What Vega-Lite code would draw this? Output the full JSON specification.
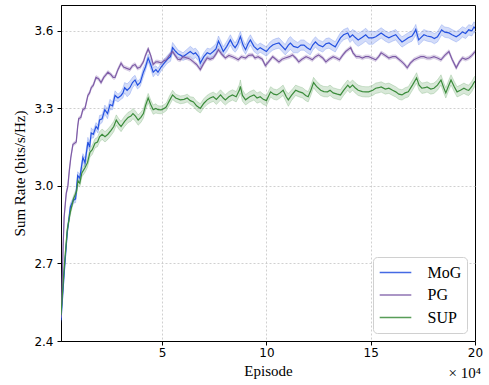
{
"$schema": "https://vega.github.io/schema/vega-lite/v6.json",
"width": 414, "height": 336,
"autosize": {"type": "none"},
"padding": {"left": 61, "top": 5, "right": 14, "bottom": 44},
"background": "white",
"config": {
 "view": {"stroke": "black", "strokeWidth": 1},
 "axis": {"domainColor": "black", "tickColor": "black", "tickSize": 4, "labelFont": "DejaVu Sans", "labelFontSize": 12, "labelColor": "black", "titleFont": "Liberation Serif", "titleFontSize": 15, "titleFontWeight": "normal", "titleColor": "black", "gridColor": "#c4c4c4", "gridDash": [2, 2], "gridWidth": 0.8, "labelFlush": false, "labelBound": false},
 "legend": {"orient": "bottom-right", "offset": 8, "fillColor": "white", "strokeColor": "#d0d0d0", "cornerRadius": 4, "padding": 5.5, "symbolType": "stroke", "symbolSize": 1000, "symbolStrokeWidth": 1.5, "symbolOpacity": 0.85, "labelFont": "Liberation Serif", "labelFontSize": 16, "labelColor": "black", "labelOffset": 15, "rowPadding": 2.5, "clipHeight": 20}
},
"data": {"values": [
{"s":"MoG","x":0.15,"y":2.48,"lo":2.472,"hi":2.488},
{"s":"MoG","x":0.3,"y":2.66,"lo":2.65,"hi":2.67},
{"s":"MoG","x":0.45,"y":2.82,"lo":2.81,"hi":2.83},
{"s":"MoG","x":0.6,"y":2.92,"lo":2.908,"hi":2.932},
{"s":"MoG","x":0.75,"y":2.945,"lo":2.933,"hi":2.957},
{"s":"MoG","x":0.85,"y":2.95,"lo":2.935,"hi":2.965},
{"s":"MoG","x":0.95,"y":3.04,"lo":3.025,"hi":3.055},
{"s":"MoG","x":1.05,"y":3.03,"lo":3.015,"hi":3.045},
{"s":"MoG","x":1.2,"y":3.11,"lo":3.095,"hi":3.125},
{"s":"MoG","x":1.3,"y":3.09,"lo":3.072,"hi":3.108},
{"s":"MoG","x":1.44,"y":3.17,"lo":3.152,"hi":3.188},
{"s":"MoG","x":1.52,"y":3.15,"lo":3.135,"hi":3.165},
{"s":"MoG","x":1.6,"y":3.205,"lo":3.185,"hi":3.225},
{"s":"MoG","x":1.7,"y":3.2,"lo":3.185,"hi":3.215},
{"s":"MoG","x":1.83,"y":3.23,"lo":3.215,"hi":3.245},
{"s":"MoG","x":1.92,"y":3.22,"lo":3.205,"hi":3.235},
{"s":"MoG","x":2.0,"y":3.255,"lo":3.237,"hi":3.273},
{"s":"MoG","x":2.12,"y":3.26,"lo":3.245,"hi":3.275},
{"s":"MoG","x":2.25,"y":3.295,"lo":3.277,"hi":3.313},
{"s":"MoG","x":2.38,"y":3.28,"lo":3.26,"hi":3.30},
{"s":"MoG","x":2.5,"y":3.315,"lo":3.295,"hi":3.335},
{"s":"MoG","x":2.62,"y":3.31,"lo":3.295,"hi":3.325},
{"s":"MoG","x":2.74,"y":3.35,"lo":3.332,"hi":3.368},
{"s":"MoG","x":2.88,"y":3.34,"lo":3.325,"hi":3.355},
{"s":"MoG","x":3.03,"y":3.35,"lo":3.335,"hi":3.365},
{"s":"MoG","x":3.12,"y":3.36,"lo":3.34,"hi":3.38},
{"s":"MoG","x":3.2,"y":3.38,"lo":3.36,"hi":3.40},
{"s":"MoG","x":3.32,"y":3.37,"lo":3.345,"hi":3.395},
{"s":"MoG","x":3.45,"y":3.38,"lo":3.355,"hi":3.405},
{"s":"MoG","x":3.58,"y":3.4,"lo":3.38,"hi":3.42},
{"s":"MoG","x":3.7,"y":3.41,"lo":3.392,"hi":3.428},
{"s":"MoG","x":3.82,"y":3.39,"lo":3.375,"hi":3.405},
{"s":"MoG","x":3.95,"y":3.40,"lo":3.385,"hi":3.415},
{"s":"MoG","x":4.1,"y":3.44,"lo":3.422,"hi":3.458},
{"s":"MoG","x":4.2,"y":3.46,"lo":3.445,"hi":3.475},
{"s":"MoG","x":4.33,"y":3.495,"lo":3.48,"hi":3.51},
{"s":"MoG","x":4.45,"y":3.47,"lo":3.452,"hi":3.488},
{"s":"MoG","x":4.57,"y":3.44,"lo":3.422,"hi":3.458},
{"s":"MoG","x":4.7,"y":3.45,"lo":3.435,"hi":3.465},
{"s":"MoG","x":4.8,"y":3.44,"lo":3.425,"hi":3.455},
{"s":"MoG","x":4.95,"y":3.46,"lo":3.445,"hi":3.475},
{"s":"MoG","x":5.1,"y":3.475,"lo":3.46,"hi":3.49},
{"s":"MoG","x":5.25,"y":3.49,"lo":3.475,"hi":3.505},
{"s":"MoG","x":5.4,"y":3.5,"lo":3.482,"hi":3.518},
{"s":"MoG","x":5.5,"y":3.535,"lo":3.515,"hi":3.555},
{"s":"MoG","x":5.65,"y":3.52,"lo":3.502,"hi":3.538},
{"s":"MoG","x":5.77,"y":3.51,"lo":3.495,"hi":3.525},
{"s":"MoG","x":5.9,"y":3.505,"lo":3.49,"hi":3.52},
{"s":"MoG","x":6.0,"y":3.50,"lo":3.485,"hi":3.515},
{"s":"MoG","x":6.18,"y":3.51,"lo":3.492,"hi":3.528},
{"s":"MoG","x":6.35,"y":3.52,"lo":3.50,"hi":3.54},
{"s":"MoG","x":6.5,"y":3.51,"lo":3.49,"hi":3.53},
{"s":"MoG","x":6.6,"y":3.515,"lo":3.497,"hi":3.533},
{"s":"MoG","x":6.75,"y":3.5,"lo":3.482,"hi":3.518},
{"s":"MoG","x":6.83,"y":3.475,"lo":3.46,"hi":3.49},
{"s":"MoG","x":7.0,"y":3.5,"lo":3.485,"hi":3.515},
{"s":"MoG","x":7.16,"y":3.515,"lo":3.497,"hi":3.533},
{"s":"MoG","x":7.3,"y":3.51,"lo":3.49,"hi":3.53},
{"s":"MoG","x":7.45,"y":3.52,"lo":3.50,"hi":3.54},
{"s":"MoG","x":7.58,"y":3.53,"lo":3.51,"hi":3.55},
{"s":"MoG","x":7.7,"y":3.56,"lo":3.54,"hi":3.58},
{"s":"MoG","x":7.82,"y":3.54,"lo":3.52,"hi":3.56},
{"s":"MoG","x":7.93,"y":3.52,"lo":3.502,"hi":3.538},
{"s":"MoG","x":8.1,"y":3.54,"lo":3.52,"hi":3.56},
{"s":"MoG","x":8.27,"y":3.565,"lo":3.545,"hi":3.585},
{"s":"MoG","x":8.4,"y":3.545,"lo":3.525,"hi":3.565},
{"s":"MoG","x":8.5,"y":3.535,"lo":3.517,"hi":3.553},
{"s":"MoG","x":8.62,"y":3.55,"lo":3.53,"hi":3.57},
{"s":"MoG","x":8.75,"y":3.578,"lo":3.558,"hi":3.598},
{"s":"MoG","x":8.88,"y":3.545,"lo":3.525,"hi":3.565},
{"s":"MoG","x":9.0,"y":3.527,"lo":3.509,"hi":3.545},
{"s":"MoG","x":9.12,"y":3.55,"lo":3.53,"hi":3.57},
{"s":"MoG","x":9.23,"y":3.565,"lo":3.545,"hi":3.585},
{"s":"MoG","x":9.4,"y":3.54,"lo":3.52,"hi":3.56},
{"s":"MoG","x":9.57,"y":3.527,"lo":3.509,"hi":3.545},
{"s":"MoG","x":9.7,"y":3.535,"lo":3.517,"hi":3.553},
{"s":"MoG","x":9.86,"y":3.527,"lo":3.509,"hi":3.545},
{"s":"MoG","x":10.0,"y":3.52,"lo":3.502,"hi":3.538},
{"s":"MoG","x":10.15,"y":3.535,"lo":3.515,"hi":3.555},
{"s":"MoG","x":10.3,"y":3.545,"lo":3.525,"hi":3.565},
{"s":"MoG","x":10.45,"y":3.55,"lo":3.53,"hi":3.57},
{"s":"MoG","x":10.6,"y":3.553,"lo":3.533,"hi":3.573},
{"s":"MoG","x":10.75,"y":3.54,"lo":3.52,"hi":3.56},
{"s":"MoG","x":10.9,"y":3.527,"lo":3.507,"hi":3.547},
{"s":"MoG","x":11.05,"y":3.545,"lo":3.52,"hi":3.57},
{"s":"MoG","x":11.15,"y":3.553,"lo":3.528,"hi":3.578},
{"s":"MoG","x":11.3,"y":3.54,"lo":3.515,"hi":3.565},
{"s":"MoG","x":11.5,"y":3.535,"lo":3.515,"hi":3.555},
{"s":"MoG","x":11.65,"y":3.545,"lo":3.525,"hi":3.565},
{"s":"MoG","x":11.8,"y":3.545,"lo":3.525,"hi":3.565},
{"s":"MoG","x":11.95,"y":3.535,"lo":3.515,"hi":3.555},
{"s":"MoG","x":12.1,"y":3.527,"lo":3.507,"hi":3.547},
{"s":"MoG","x":12.22,"y":3.545,"lo":3.525,"hi":3.565},
{"s":"MoG","x":12.35,"y":3.557,"lo":3.537,"hi":3.577},
{"s":"MoG","x":12.5,"y":3.545,"lo":3.525,"hi":3.565},
{"s":"MoG","x":12.7,"y":3.538,"lo":3.518,"hi":3.558},
{"s":"MoG","x":12.85,"y":3.55,"lo":3.53,"hi":3.57},
{"s":"MoG","x":13.0,"y":3.553,"lo":3.533,"hi":3.573},
{"s":"MoG","x":13.15,"y":3.545,"lo":3.525,"hi":3.565},
{"s":"MoG","x":13.3,"y":3.538,"lo":3.518,"hi":3.558},
{"s":"MoG","x":13.42,"y":3.555,"lo":3.535,"hi":3.575},
{"s":"MoG","x":13.55,"y":3.573,"lo":3.553,"hi":3.593},
{"s":"MoG","x":13.7,"y":3.585,"lo":3.565,"hi":3.605},
{"s":"MoG","x":13.9,"y":3.592,"lo":3.572,"hi":3.612},
{"s":"MoG","x":14.0,"y":3.575,"lo":3.555,"hi":3.595},
{"s":"MoG","x":14.13,"y":3.585,"lo":3.565,"hi":3.605},
{"s":"MoG","x":14.25,"y":3.575,"lo":3.55,"hi":3.60},
{"s":"MoG","x":14.4,"y":3.565,"lo":3.54,"hi":3.59},
{"s":"MoG","x":14.6,"y":3.575,"lo":3.55,"hi":3.60},
{"s":"MoG","x":14.76,"y":3.585,"lo":3.56,"hi":3.61},
{"s":"MoG","x":14.9,"y":3.573,"lo":3.548,"hi":3.598},
{"s":"MoG","x":15.1,"y":3.573,"lo":3.548,"hi":3.598},
{"s":"MoG","x":15.24,"y":3.577,"lo":3.557,"hi":3.597},
{"s":"MoG","x":15.38,"y":3.585,"lo":3.565,"hi":3.605},
{"s":"MoG","x":15.5,"y":3.592,"lo":3.572,"hi":3.612},
{"s":"MoG","x":15.7,"y":3.58,"lo":3.56,"hi":3.60},
{"s":"MoG","x":15.87,"y":3.573,"lo":3.553,"hi":3.593},
{"s":"MoG","x":16.05,"y":3.58,"lo":3.56,"hi":3.60},
{"s":"MoG","x":16.2,"y":3.585,"lo":3.565,"hi":3.605},
{"s":"MoG","x":16.35,"y":3.57,"lo":3.55,"hi":3.59},
{"s":"MoG","x":16.5,"y":3.557,"lo":3.537,"hi":3.577},
{"s":"MoG","x":16.65,"y":3.565,"lo":3.545,"hi":3.585},
{"s":"MoG","x":16.8,"y":3.573,"lo":3.553,"hi":3.593},
{"s":"MoG","x":16.98,"y":3.58,"lo":3.56,"hi":3.60},
{"s":"MoG","x":17.1,"y":3.595,"lo":3.575,"hi":3.615},
{"s":"MoG","x":17.16,"y":3.605,"lo":3.585,"hi":3.625},
{"s":"MoG","x":17.3,"y":3.565,"lo":3.545,"hi":3.585},
{"s":"MoG","x":17.42,"y":3.575,"lo":3.555,"hi":3.595},
{"s":"MoG","x":17.55,"y":3.585,"lo":3.565,"hi":3.605},
{"s":"MoG","x":17.7,"y":3.58,"lo":3.56,"hi":3.60},
{"s":"MoG","x":17.9,"y":3.577,"lo":3.557,"hi":3.597},
{"s":"MoG","x":18.05,"y":3.57,"lo":3.55,"hi":3.59},
{"s":"MoG","x":18.2,"y":3.577,"lo":3.557,"hi":3.597},
{"s":"MoG","x":18.3,"y":3.59,"lo":3.57,"hi":3.61},
{"s":"MoG","x":18.4,"y":3.604,"lo":3.584,"hi":3.624},
{"s":"MoG","x":18.55,"y":3.595,"lo":3.575,"hi":3.615},
{"s":"MoG","x":18.75,"y":3.592,"lo":3.572,"hi":3.612},
{"s":"MoG","x":18.9,"y":3.585,"lo":3.565,"hi":3.605},
{"s":"MoG","x":19.1,"y":3.577,"lo":3.557,"hi":3.597},
{"s":"MoG","x":19.25,"y":3.585,"lo":3.565,"hi":3.605},
{"s":"MoG","x":19.4,"y":3.596,"lo":3.576,"hi":3.616},
{"s":"MoG","x":19.55,"y":3.59,"lo":3.57,"hi":3.61},
{"s":"MoG","x":19.7,"y":3.604,"lo":3.584,"hi":3.624},
{"s":"MoG","x":19.85,"y":3.6,"lo":3.58,"hi":3.62},
{"s":"MoG","x":19.95,"y":3.615,"lo":3.595,"hi":3.635},
{"s":"MoG","x":20.0,"y":3.61,"lo":3.59,"hi":3.63},
{"s":"PG","x":0.15,"y":2.49,"lo":2.483,"hi":2.497},
{"s":"PG","x":0.2,"y":2.6,"lo":2.593,"hi":2.607},
{"s":"PG","x":0.25,"y":2.76,"lo":2.753,"hi":2.767},
{"s":"PG","x":0.3,"y":2.88,"lo":2.873,"hi":2.887},
{"s":"PG","x":0.4,"y":2.97,"lo":2.963,"hi":2.977},
{"s":"PG","x":0.48,"y":3.0,"lo":2.993,"hi":3.007},
{"s":"PG","x":0.55,"y":3.06,"lo":3.053,"hi":3.067},
{"s":"PG","x":0.62,"y":3.11,"lo":3.103,"hi":3.117},
{"s":"PG","x":0.72,"y":3.16,"lo":3.153,"hi":3.167},
{"s":"PG","x":0.8,"y":3.165,"lo":3.158,"hi":3.172},
{"s":"PG","x":0.88,"y":3.17,"lo":3.163,"hi":3.177},
{"s":"PG","x":0.95,"y":3.23,"lo":3.223,"hi":3.237},
{"s":"PG","x":1.0,"y":3.26,"lo":3.253,"hi":3.267},
{"s":"PG","x":1.1,"y":3.265,"lo":3.258,"hi":3.272},
{"s":"PG","x":1.2,"y":3.295,"lo":3.288,"hi":3.302},
{"s":"PG","x":1.3,"y":3.3,"lo":3.293,"hi":3.307},
{"s":"PG","x":1.44,"y":3.35,"lo":3.343,"hi":3.357},
{"s":"PG","x":1.52,"y":3.36,"lo":3.353,"hi":3.367},
{"s":"PG","x":1.6,"y":3.38,"lo":3.373,"hi":3.387},
{"s":"PG","x":1.7,"y":3.39,"lo":3.383,"hi":3.397},
{"s":"PG","x":1.83,"y":3.42,"lo":3.413,"hi":3.427},
{"s":"PG","x":1.95,"y":3.415,"lo":3.408,"hi":3.422},
{"s":"PG","x":2.07,"y":3.40,"lo":3.393,"hi":3.407},
{"s":"PG","x":2.2,"y":3.42,"lo":3.413,"hi":3.427},
{"s":"PG","x":2.3,"y":3.43,"lo":3.423,"hi":3.437},
{"s":"PG","x":2.4,"y":3.44,"lo":3.433,"hi":3.447},
{"s":"PG","x":2.55,"y":3.43,"lo":3.423,"hi":3.437},
{"s":"PG","x":2.65,"y":3.42,"lo":3.413,"hi":3.427},
{"s":"PG","x":2.74,"y":3.42,"lo":3.413,"hi":3.427},
{"s":"PG","x":2.88,"y":3.45,"lo":3.443,"hi":3.457},
{"s":"PG","x":3.03,"y":3.475,"lo":3.468,"hi":3.482},
{"s":"PG","x":3.15,"y":3.46,"lo":3.453,"hi":3.467},
{"s":"PG","x":3.3,"y":3.455,"lo":3.448,"hi":3.462},
{"s":"PG","x":3.45,"y":3.45,"lo":3.443,"hi":3.457},
{"s":"PG","x":3.58,"y":3.465,"lo":3.458,"hi":3.472},
{"s":"PG","x":3.7,"y":3.47,"lo":3.463,"hi":3.477},
{"s":"PG","x":3.82,"y":3.455,"lo":3.448,"hi":3.462},
{"s":"PG","x":3.95,"y":3.46,"lo":3.453,"hi":3.467},
{"s":"PG","x":4.1,"y":3.48,"lo":3.473,"hi":3.487},
{"s":"PG","x":4.2,"y":3.505,"lo":3.498,"hi":3.512},
{"s":"PG","x":4.33,"y":3.53,"lo":3.523,"hi":3.537},
{"s":"PG","x":4.45,"y":3.505,"lo":3.498,"hi":3.512},
{"s":"PG","x":4.57,"y":3.47,"lo":3.463,"hi":3.477},
{"s":"PG","x":4.7,"y":3.48,"lo":3.473,"hi":3.487},
{"s":"PG","x":4.8,"y":3.48,"lo":3.473,"hi":3.487},
{"s":"PG","x":4.95,"y":3.476,"lo":3.469,"hi":3.483},
{"s":"PG","x":5.1,"y":3.485,"lo":3.478,"hi":3.492},
{"s":"PG","x":5.2,"y":3.488,"lo":3.481,"hi":3.495},
{"s":"PG","x":5.35,"y":3.505,"lo":3.498,"hi":3.512},
{"s":"PG","x":5.5,"y":3.52,"lo":3.513,"hi":3.527},
{"s":"PG","x":5.62,"y":3.505,"lo":3.498,"hi":3.512},
{"s":"PG","x":5.75,"y":3.49,"lo":3.483,"hi":3.497},
{"s":"PG","x":5.87,"y":3.488,"lo":3.481,"hi":3.495},
{"s":"PG","x":6.0,"y":3.5,"lo":3.493,"hi":3.507},
{"s":"PG","x":6.2,"y":3.495,"lo":3.488,"hi":3.502},
{"s":"PG","x":6.35,"y":3.49,"lo":3.483,"hi":3.497},
{"s":"PG","x":6.5,"y":3.48,"lo":3.473,"hi":3.487},
{"s":"PG","x":6.65,"y":3.47,"lo":3.463,"hi":3.477},
{"s":"PG","x":6.83,"y":3.45,"lo":3.443,"hi":3.457},
{"s":"PG","x":7.0,"y":3.475,"lo":3.468,"hi":3.482},
{"s":"PG","x":7.16,"y":3.495,"lo":3.488,"hi":3.502},
{"s":"PG","x":7.3,"y":3.49,"lo":3.483,"hi":3.497},
{"s":"PG","x":7.45,"y":3.495,"lo":3.488,"hi":3.502},
{"s":"PG","x":7.58,"y":3.51,"lo":3.503,"hi":3.517},
{"s":"PG","x":7.7,"y":3.527,"lo":3.52,"hi":3.534},
{"s":"PG","x":7.85,"y":3.51,"lo":3.503,"hi":3.517},
{"s":"PG","x":8.03,"y":3.495,"lo":3.488,"hi":3.502},
{"s":"PG","x":8.2,"y":3.505,"lo":3.498,"hi":3.512},
{"s":"PG","x":8.37,"y":3.5,"lo":3.493,"hi":3.507},
{"s":"PG","x":8.5,"y":3.495,"lo":3.488,"hi":3.502},
{"s":"PG","x":8.65,"y":3.488,"lo":3.481,"hi":3.495},
{"s":"PG","x":8.8,"y":3.5,"lo":3.493,"hi":3.507},
{"s":"PG","x":9.0,"y":3.495,"lo":3.488,"hi":3.502},
{"s":"PG","x":9.15,"y":3.505,"lo":3.498,"hi":3.512},
{"s":"PG","x":9.33,"y":3.507,"lo":3.5,"hi":3.514},
{"s":"PG","x":9.45,"y":3.495,"lo":3.488,"hi":3.502},
{"s":"PG","x":9.6,"y":3.5,"lo":3.493,"hi":3.507},
{"s":"PG","x":9.8,"y":3.49,"lo":3.483,"hi":3.497},
{"s":"PG","x":9.95,"y":3.465,"lo":3.458,"hi":3.472},
{"s":"PG","x":10.1,"y":3.48,"lo":3.473,"hi":3.487},
{"s":"PG","x":10.3,"y":3.5,"lo":3.493,"hi":3.507},
{"s":"PG","x":10.45,"y":3.49,"lo":3.483,"hi":3.497},
{"s":"PG","x":10.6,"y":3.48,"lo":3.473,"hi":3.487},
{"s":"PG","x":10.75,"y":3.49,"lo":3.483,"hi":3.497},
{"s":"PG","x":10.9,"y":3.495,"lo":3.488,"hi":3.502},
{"s":"PG","x":11.1,"y":3.5,"lo":3.493,"hi":3.507},
{"s":"PG","x":11.25,"y":3.507,"lo":3.5,"hi":3.514},
{"s":"PG","x":11.4,"y":3.495,"lo":3.488,"hi":3.502},
{"s":"PG","x":11.55,"y":3.48,"lo":3.473,"hi":3.487},
{"s":"PG","x":11.7,"y":3.49,"lo":3.483,"hi":3.497},
{"s":"PG","x":11.9,"y":3.5,"lo":3.493,"hi":3.507},
{"s":"PG","x":12.05,"y":3.495,"lo":3.488,"hi":3.502},
{"s":"PG","x":12.2,"y":3.488,"lo":3.481,"hi":3.495},
{"s":"PG","x":12.35,"y":3.5,"lo":3.493,"hi":3.507},
{"s":"PG","x":12.5,"y":3.507,"lo":3.5,"hi":3.514},
{"s":"PG","x":12.7,"y":3.495,"lo":3.488,"hi":3.502},
{"s":"PG","x":12.85,"y":3.48,"lo":3.473,"hi":3.487},
{"s":"PG","x":13.0,"y":3.49,"lo":3.483,"hi":3.497},
{"s":"PG","x":13.2,"y":3.5,"lo":3.493,"hi":3.507},
{"s":"PG","x":13.35,"y":3.495,"lo":3.488,"hi":3.502},
{"s":"PG","x":13.5,"y":3.488,"lo":3.481,"hi":3.495},
{"s":"PG","x":13.65,"y":3.505,"lo":3.498,"hi":3.512},
{"s":"PG","x":13.8,"y":3.52,"lo":3.513,"hi":3.527},
{"s":"PG","x":14.04,"y":3.535,"lo":3.528,"hi":3.542},
{"s":"PG","x":14.15,"y":3.515,"lo":3.508,"hi":3.522},
{"s":"PG","x":14.3,"y":3.5,"lo":3.493,"hi":3.507},
{"s":"PG","x":14.45,"y":3.5,"lo":3.493,"hi":3.507},
{"s":"PG","x":14.6,"y":3.495,"lo":3.488,"hi":3.502},
{"s":"PG","x":14.75,"y":3.5,"lo":3.493,"hi":3.507},
{"s":"PG","x":14.9,"y":3.5,"lo":3.493,"hi":3.507},
{"s":"PG","x":15.05,"y":3.495,"lo":3.488,"hi":3.502},
{"s":"PG","x":15.24,"y":3.488,"lo":3.481,"hi":3.495},
{"s":"PG","x":15.38,"y":3.5,"lo":3.493,"hi":3.507},
{"s":"PG","x":15.5,"y":3.515,"lo":3.508,"hi":3.522},
{"s":"PG","x":15.7,"y":3.505,"lo":3.498,"hi":3.512},
{"s":"PG","x":15.87,"y":3.495,"lo":3.488,"hi":3.502},
{"s":"PG","x":16.05,"y":3.5,"lo":3.493,"hi":3.507},
{"s":"PG","x":16.2,"y":3.5,"lo":3.493,"hi":3.507},
{"s":"PG","x":16.35,"y":3.49,"lo":3.483,"hi":3.497},
{"s":"PG","x":16.5,"y":3.48,"lo":3.473,"hi":3.487},
{"s":"PG","x":16.62,"y":3.47,"lo":3.463,"hi":3.477},
{"s":"PG","x":16.75,"y":3.457,"lo":3.45,"hi":3.464},
{"s":"PG","x":16.9,"y":3.475,"lo":3.468,"hi":3.482},
{"s":"PG","x":17.07,"y":3.488,"lo":3.481,"hi":3.495},
{"s":"PG","x":17.25,"y":3.495,"lo":3.488,"hi":3.502},
{"s":"PG","x":17.4,"y":3.5,"lo":3.493,"hi":3.507},
{"s":"PG","x":17.55,"y":3.5,"lo":3.493,"hi":3.507},
{"s":"PG","x":17.7,"y":3.495,"lo":3.488,"hi":3.502},
{"s":"PG","x":17.85,"y":3.495,"lo":3.488,"hi":3.502},
{"s":"PG","x":18.03,"y":3.5,"lo":3.493,"hi":3.507},
{"s":"PG","x":18.2,"y":3.495,"lo":3.488,"hi":3.502},
{"s":"PG","x":18.37,"y":3.488,"lo":3.481,"hi":3.495},
{"s":"PG","x":18.55,"y":3.505,"lo":3.498,"hi":3.512},
{"s":"PG","x":18.75,"y":3.52,"lo":3.513,"hi":3.527},
{"s":"PG","x":18.9,"y":3.49,"lo":3.483,"hi":3.497},
{"s":"PG","x":19.1,"y":3.457,"lo":3.45,"hi":3.464},
{"s":"PG","x":19.25,"y":3.48,"lo":3.473,"hi":3.487},
{"s":"PG","x":19.4,"y":3.495,"lo":3.488,"hi":3.502},
{"s":"PG","x":19.55,"y":3.49,"lo":3.483,"hi":3.497},
{"s":"PG","x":19.7,"y":3.495,"lo":3.488,"hi":3.502},
{"s":"PG","x":19.85,"y":3.505,"lo":3.498,"hi":3.512},
{"s":"PG","x":19.95,"y":3.515,"lo":3.508,"hi":3.522},
{"s":"PG","x":20.0,"y":3.52,"lo":3.513,"hi":3.527},
{"s":"SUP","x":0.15,"y":2.5,"lo":2.492,"hi":2.508},
{"s":"SUP","x":0.3,"y":2.68,"lo":2.67,"hi":2.69},
{"s":"SUP","x":0.45,"y":2.83,"lo":2.82,"hi":2.84},
{"s":"SUP","x":0.6,"y":2.9,"lo":2.888,"hi":2.912},
{"s":"SUP","x":0.75,"y":2.95,"lo":2.938,"hi":2.962},
{"s":"SUP","x":0.9,"y":2.98,"lo":2.968,"hi":2.992},
{"s":"SUP","x":0.96,"y":3.02,"lo":3.005,"hi":3.035},
{"s":"SUP","x":1.05,"y":3.01,"lo":2.995,"hi":3.025},
{"s":"SUP","x":1.15,"y":3.05,"lo":3.035,"hi":3.065},
{"s":"SUP","x":1.3,"y":3.07,"lo":3.052,"hi":3.088},
{"s":"SUP","x":1.42,"y":3.09,"lo":3.072,"hi":3.108},
{"s":"SUP","x":1.54,"y":3.13,"lo":3.112,"hi":3.148},
{"s":"SUP","x":1.65,"y":3.14,"lo":3.122,"hi":3.158},
{"s":"SUP","x":1.78,"y":3.165,"lo":3.147,"hi":3.183},
{"s":"SUP","x":1.9,"y":3.17,"lo":3.152,"hi":3.188},
{"s":"SUP","x":2.0,"y":3.19,"lo":3.17,"hi":3.21},
{"s":"SUP","x":2.12,"y":3.2,"lo":3.18,"hi":3.22},
{"s":"SUP","x":2.26,"y":3.19,"lo":3.17,"hi":3.21},
{"s":"SUP","x":2.4,"y":3.2,"lo":3.18,"hi":3.22},
{"s":"SUP","x":2.55,"y":3.215,"lo":3.195,"hi":3.235},
{"s":"SUP","x":2.68,"y":3.23,"lo":3.21,"hi":3.25},
{"s":"SUP","x":2.8,"y":3.255,"lo":3.235,"hi":3.275},
{"s":"SUP","x":2.92,"y":3.24,"lo":3.22,"hi":3.26},
{"s":"SUP","x":3.03,"y":3.23,"lo":3.21,"hi":3.25},
{"s":"SUP","x":3.2,"y":3.25,"lo":3.23,"hi":3.27},
{"s":"SUP","x":3.37,"y":3.265,"lo":3.245,"hi":3.285},
{"s":"SUP","x":3.5,"y":3.27,"lo":3.25,"hi":3.29},
{"s":"SUP","x":3.6,"y":3.28,"lo":3.26,"hi":3.30},
{"s":"SUP","x":3.72,"y":3.27,"lo":3.25,"hi":3.29},
{"s":"SUP","x":3.85,"y":3.255,"lo":3.235,"hi":3.275},
{"s":"SUP","x":3.98,"y":3.265,"lo":3.245,"hi":3.285},
{"s":"SUP","x":4.1,"y":3.28,"lo":3.262,"hi":3.298},
{"s":"SUP","x":4.2,"y":3.31,"lo":3.292,"hi":3.328},
{"s":"SUP","x":4.33,"y":3.34,"lo":3.322,"hi":3.358},
{"s":"SUP","x":4.45,"y":3.315,"lo":3.297,"hi":3.333},
{"s":"SUP","x":4.57,"y":3.295,"lo":3.277,"hi":3.313},
{"s":"SUP","x":4.7,"y":3.3,"lo":3.282,"hi":3.318},
{"s":"SUP","x":4.8,"y":3.295,"lo":3.28,"hi":3.31},
{"s":"SUP","x":4.95,"y":3.294,"lo":3.279,"hi":3.309},
{"s":"SUP","x":5.1,"y":3.30,"lo":3.285,"hi":3.315},
{"s":"SUP","x":5.2,"y":3.306,"lo":3.291,"hi":3.321},
{"s":"SUP","x":5.35,"y":3.33,"lo":3.312,"hi":3.348},
{"s":"SUP","x":5.5,"y":3.352,"lo":3.334,"hi":3.37},
{"s":"SUP","x":5.65,"y":3.34,"lo":3.325,"hi":3.355},
{"s":"SUP","x":5.87,"y":3.333,"lo":3.318,"hi":3.348},
{"s":"SUP","x":6.05,"y":3.335,"lo":3.32,"hi":3.35},
{"s":"SUP","x":6.2,"y":3.34,"lo":3.325,"hi":3.355},
{"s":"SUP","x":6.35,"y":3.33,"lo":3.315,"hi":3.345},
{"s":"SUP","x":6.5,"y":3.325,"lo":3.307,"hi":3.343},
{"s":"SUP","x":6.65,"y":3.31,"lo":3.292,"hi":3.328},
{"s":"SUP","x":6.83,"y":3.3,"lo":3.282,"hi":3.318},
{"s":"SUP","x":7.0,"y":3.32,"lo":3.302,"hi":3.338},
{"s":"SUP","x":7.16,"y":3.333,"lo":3.315,"hi":3.351},
{"s":"SUP","x":7.3,"y":3.34,"lo":3.322,"hi":3.358},
{"s":"SUP","x":7.45,"y":3.345,"lo":3.327,"hi":3.363},
{"s":"SUP","x":7.6,"y":3.335,"lo":3.315,"hi":3.355},
{"s":"SUP","x":7.8,"y":3.352,"lo":3.332,"hi":3.372},
{"s":"SUP","x":7.93,"y":3.34,"lo":3.32,"hi":3.36},
{"s":"SUP","x":8.03,"y":3.333,"lo":3.313,"hi":3.353},
{"s":"SUP","x":8.2,"y":3.345,"lo":3.325,"hi":3.365},
{"s":"SUP","x":8.37,"y":3.352,"lo":3.332,"hi":3.372},
{"s":"SUP","x":8.55,"y":3.345,"lo":3.325,"hi":3.365},
{"s":"SUP","x":8.7,"y":3.37,"lo":3.348,"hi":3.392},
{"s":"SUP","x":8.75,"y":3.385,"lo":3.36,"hi":3.41},
{"s":"SUP","x":8.85,"y":3.35,"lo":3.328,"hi":3.372},
{"s":"SUP","x":9.0,"y":3.333,"lo":3.313,"hi":3.353},
{"s":"SUP","x":9.2,"y":3.345,"lo":3.325,"hi":3.365},
{"s":"SUP","x":9.4,"y":3.352,"lo":3.332,"hi":3.372},
{"s":"SUP","x":9.55,"y":3.34,"lo":3.32,"hi":3.36},
{"s":"SUP","x":9.7,"y":3.345,"lo":3.325,"hi":3.365},
{"s":"SUP","x":9.85,"y":3.335,"lo":3.315,"hi":3.355},
{"s":"SUP","x":10.0,"y":3.33,"lo":3.31,"hi":3.35},
{"s":"SUP","x":10.2,"y":3.364,"lo":3.344,"hi":3.384},
{"s":"SUP","x":10.35,"y":3.355,"lo":3.335,"hi":3.375},
{"s":"SUP","x":10.5,"y":3.352,"lo":3.332,"hi":3.372},
{"s":"SUP","x":10.65,"y":3.36,"lo":3.34,"hi":3.38},
{"s":"SUP","x":10.8,"y":3.37,"lo":3.35,"hi":3.39},
{"s":"SUP","x":10.95,"y":3.345,"lo":3.325,"hi":3.365},
{"s":"SUP","x":11.05,"y":3.333,"lo":3.308,"hi":3.358},
{"s":"SUP","x":11.2,"y":3.35,"lo":3.33,"hi":3.37},
{"s":"SUP","x":11.4,"y":3.37,"lo":3.35,"hi":3.39},
{"s":"SUP","x":11.55,"y":3.365,"lo":3.345,"hi":3.385},
{"s":"SUP","x":11.73,"y":3.36,"lo":3.34,"hi":3.38},
{"s":"SUP","x":11.88,"y":3.35,"lo":3.33,"hi":3.37},
{"s":"SUP","x":12.0,"y":3.345,"lo":3.325,"hi":3.365},
{"s":"SUP","x":12.13,"y":3.37,"lo":3.35,"hi":3.39},
{"s":"SUP","x":12.26,"y":3.4,"lo":3.38,"hi":3.42},
{"s":"SUP","x":12.4,"y":3.385,"lo":3.365,"hi":3.405},
{"s":"SUP","x":12.6,"y":3.37,"lo":3.35,"hi":3.39},
{"s":"SUP","x":12.75,"y":3.365,"lo":3.345,"hi":3.385},
{"s":"SUP","x":12.93,"y":3.364,"lo":3.344,"hi":3.384},
{"s":"SUP","x":13.05,"y":3.37,"lo":3.35,"hi":3.39},
{"s":"SUP","x":13.2,"y":3.36,"lo":3.34,"hi":3.38},
{"s":"SUP","x":13.4,"y":3.355,"lo":3.335,"hi":3.375},
{"s":"SUP","x":13.55,"y":3.352,"lo":3.332,"hi":3.372},
{"s":"SUP","x":13.7,"y":3.37,"lo":3.35,"hi":3.39},
{"s":"SUP","x":13.9,"y":3.39,"lo":3.37,"hi":3.41},
{"s":"SUP","x":14.0,"y":3.38,"lo":3.36,"hi":3.40},
{"s":"SUP","x":14.13,"y":3.39,"lo":3.37,"hi":3.41},
{"s":"SUP","x":14.25,"y":3.38,"lo":3.36,"hi":3.40},
{"s":"SUP","x":14.4,"y":3.37,"lo":3.35,"hi":3.39},
{"s":"SUP","x":14.6,"y":3.365,"lo":3.345,"hi":3.385},
{"s":"SUP","x":14.76,"y":3.364,"lo":3.344,"hi":3.384},
{"s":"SUP","x":14.9,"y":3.364,"lo":3.344,"hi":3.384},
{"s":"SUP","x":15.1,"y":3.37,"lo":3.35,"hi":3.39},
{"s":"SUP","x":15.24,"y":3.378,"lo":3.358,"hi":3.398},
{"s":"SUP","x":15.38,"y":3.38,"lo":3.36,"hi":3.40},
{"s":"SUP","x":15.5,"y":3.383,"lo":3.363,"hi":3.403},
{"s":"SUP","x":15.7,"y":3.375,"lo":3.355,"hi":3.395},
{"s":"SUP","x":15.87,"y":3.378,"lo":3.358,"hi":3.398},
{"s":"SUP","x":16.05,"y":3.37,"lo":3.35,"hi":3.39},
{"s":"SUP","x":16.2,"y":3.364,"lo":3.344,"hi":3.384},
{"s":"SUP","x":16.35,"y":3.355,"lo":3.335,"hi":3.375},
{"s":"SUP","x":16.5,"y":3.352,"lo":3.332,"hi":3.372},
{"s":"SUP","x":16.65,"y":3.36,"lo":3.34,"hi":3.38},
{"s":"SUP","x":16.8,"y":3.364,"lo":3.344,"hi":3.384},
{"s":"SUP","x":17.0,"y":3.39,"lo":3.37,"hi":3.41},
{"s":"SUP","x":17.2,"y":3.418,"lo":3.398,"hi":3.438},
{"s":"SUP","x":17.32,"y":3.39,"lo":3.37,"hi":3.41},
{"s":"SUP","x":17.45,"y":3.378,"lo":3.358,"hi":3.398},
{"s":"SUP","x":17.6,"y":3.38,"lo":3.36,"hi":3.40},
{"s":"SUP","x":17.7,"y":3.383,"lo":3.363,"hi":3.403},
{"s":"SUP","x":17.88,"y":3.375,"lo":3.355,"hi":3.395},
{"s":"SUP","x":18.03,"y":3.378,"lo":3.358,"hi":3.398},
{"s":"SUP","x":18.2,"y":3.39,"lo":3.37,"hi":3.41},
{"s":"SUP","x":18.37,"y":3.41,"lo":3.39,"hi":3.43},
{"s":"SUP","x":18.5,"y":3.38,"lo":3.36,"hi":3.40},
{"s":"SUP","x":18.6,"y":3.36,"lo":3.34,"hi":3.38},
{"s":"SUP","x":18.72,"y":3.385,"lo":3.365,"hi":3.405},
{"s":"SUP","x":18.85,"y":3.41,"lo":3.39,"hi":3.43},
{"s":"SUP","x":19.0,"y":3.385,"lo":3.365,"hi":3.405},
{"s":"SUP","x":19.14,"y":3.364,"lo":3.344,"hi":3.384},
{"s":"SUP","x":19.3,"y":3.37,"lo":3.35,"hi":3.39},
{"s":"SUP","x":19.47,"y":3.378,"lo":3.358,"hi":3.398},
{"s":"SUP","x":19.6,"y":3.372,"lo":3.352,"hi":3.392},
{"s":"SUP","x":19.7,"y":3.37,"lo":3.35,"hi":3.39},
{"s":"SUP","x":19.85,"y":3.385,"lo":3.365,"hi":3.405},
{"s":"SUP","x":19.95,"y":3.4,"lo":3.38,"hi":3.42},
{"s":"SUP","x":20.0,"y":3.405,"lo":3.385,"hi":3.425}
]},
"layer": [
 {
  "mark": {"type": "area", "opacity": 0.2, "clip": true},
  "encoding": {
   "x": {"field": "x", "type": "quantitative", "scale": {"domain": [0.15, 20], "nice": false, "zero": false}, "axis": {"values": [5, 10, 15, 20], "title": "Episode", "labelPadding": 2, "titlePadding": 5, "grid": true, "gridOpacity": {"condition": {"test": "datum.value >= 20", "value": 0}, "value": 1}}},
   "y": {"field": "lo", "type": "quantitative", "scale": {"domain": [2.4, 3.7], "nice": false, "zero": false}, "axis": {"values": [2.4, 2.7, 3.0, 3.3, 3.6], "format": ".1f", "title": "Sum Rate (bits/s/Hz)", "labelPadding": 4, "titlePadding": 6, "grid": true}},
   "y2": {"field": "hi"},
   "color": {"field": "s", "type": "nominal", "scale": {"domain": ["MoG", "PG", "SUP"], "range": ["#2451e0", "#7d5ba6", "#3b8c3b"]}, "legend": {"title": null}}
  }
 },
 {
  "mark": {"type": "line", "strokeWidth": 0.7, "opacity": 0.3, "clip": true},
  "encoding": {
   "x": {"field": "x", "type": "quantitative"},
   "y": {"field": "lo", "type": "quantitative"},
   "color": {"field": "s", "type": "nominal", "legend": {"title": null}}
  }
 },
 {
  "mark": {"type": "line", "strokeWidth": 0.7, "opacity": 0.3, "clip": true},
  "encoding": {
   "x": {"field": "x", "type": "quantitative"},
   "y": {"field": "hi", "type": "quantitative"},
   "color": {"field": "s", "type": "nominal", "legend": {"title": null}}
  }
 },
 {
  "mark": {"type": "line", "strokeWidth": 1.2, "clip": true},
  "encoding": {
   "x": {"field": "x", "type": "quantitative"},
   "y": {"field": "y", "type": "quantitative"},
   "color": {"field": "s", "type": "nominal", "legend": {"title": null}}
  }
 },
 {
  "data": {"values": [{"note": "x10^4"}]},
  "mark": {"type": "text", "align": "right", "baseline": "alphabetic", "dx": 6, "dy": 37, "font": "Liberation Serif", "fontSize": 15, "color": "black"},
  "encoding": {"x": {"datum": 20}, "y": {"datum": 2.4}, "text": {"value": "× 10⁴"}}
 }
]
}
